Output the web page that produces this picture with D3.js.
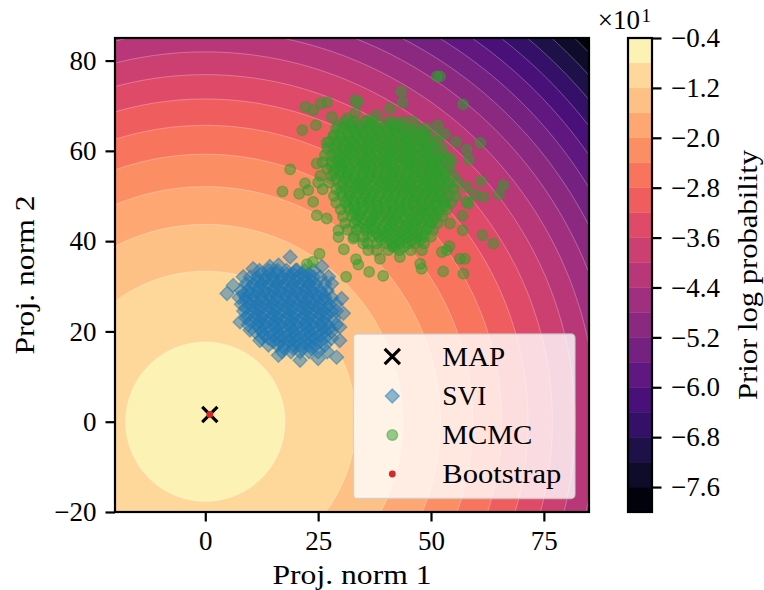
<!DOCTYPE html>
<html>
<head>
<meta charset="utf-8">
<script src="https://cdn.jsdelivr.net/npm/d3@7"></script>
<style>
  body { margin: 0; background: #fff; }
  svg, svg text { font-family: "Liberation Serif", "Times New Roman", serif !important; }
  text { fill: #000; }
</style>
</head>
<body>
<svg id="chart" width="764" height="590"></svg>
<script>
// ---- axis ticks and labels ----
const xTicks = [0, 25, 50, 75];
const xTickLabels = ["0", "25", "50", "75"];
const yTicks = [-20, 0, 20, 40, 60, 80];
const yTickLabels = ["\u221220", "0", "20", "40", "60", "80"];
const axisDomain = [-20, 85];

// ---- prior surface: isotropic Gaussian, filled contour levels ----
const priorMean = [0, 0];
const priorSigma = 10;
const levels = [-80, -76, -72, -68, -64, -60, -56, -52, -48, -44, -40, -36, -32, -28, -24, -20, -16, -12, -8, -4];
const cbTicks = [-76, -68, -60, -52, -44, -36, -28, -20, -12, -4];
const cbTickLabels = ["\u22127.6", "\u22126.8", "\u22126.0", "\u22125.2", "\u22124.4", "\u22123.6", "\u22122.8", "\u22122.0", "\u22121.2", "\u22120.4"];

// ---- point estimates ----
const mapPoint = [[1.0, 1.6]];
const bootstrapPoints = [[1.0, 1.6]];

// ---- SVI samples: outer samples, then rows of the dense core ----
const sviEdge = [[18.8,36.5],[16.2,34.7],[14.3,34.4],[25.8,34.4],[20.3,33.6],[4.8,28.4],[6.2,30.2],[8.4,32.1],
  [10.6,33.9],[7.7,22.1],[9.9,20.3],[12.1,18.0],[16.2,14.7],[21.0,13.6],[25.0,14.0],[29.1,14.3],[29.8,18.0],
  [29.8,21.0],[30.6,24.0],[30.2,27.3],[28.0,30.6],[27.3,32.1]];
const sviRows = [
  [33.5, [12, 14, 16, 18, 20, 22, 24]],
  [32.75, [12.5, 14.5, 16, 18, 19.5, 21.5, 23]],
  [32, [10, 11.5, 13.5, 15, 17, 18.5, 20.5, 22, 24, 25.5]],
  [31.25, [11.5, 13, 15, 16.5, 18.5, 20, 22, 23.5]],
  [30.5, [9, 10.5, 12.5, 14, 16, 17.5, 19.5, 21, 23, 24.5, 26.5]],
  [29.75, [10, 12, 13.5, 15.5, 17, 19, 20.5, 22.5, 24]],
  [29, [8, 9.5, 11.5, 13, 15, 16.5, 18.5, 20, 22, 23.5, 25.5, 27]],
  [28.25, [8.5, 10, 12, 14, 15.5, 17.5, 19, 21, 22.5, 24.5, 26]],
  [27.5, [7.5, 9, 11, 12.5, 14.5, 16, 18, 19.5, 21.5, 23, 25, 26.5, 28]],
  [26.75, [9, 10.5, 12.5, 14, 16, 17.5, 19.5, 21, 23, 24.5, 26.5]],
  [26, [8, 10, 11.5, 13.5, 15, 17, 18.5, 20.5, 22, 24, 25.5, 27.5, 29]],
  [25.25, [9, 11, 12.5, 14.5, 16, 18, 19.5, 21.5, 23, 25, 27]],
  [24.5, [8.5, 10.5, 12, 14, 15.5, 17.5, 19, 21, 22.5, 24.5, 26, 28, 29]],
  [23.75, [9.5, 11.5, 13, 15, 16.5, 18.5, 20, 22, 23.5, 25.5, 27]],
  [23, [9, 11, 12.5, 14.5, 16, 18, 19.5, 21.5, 23, 25, 26.5, 28.5]],
  [22.25, [10, 12, 13.5, 15.5, 17, 19, 20.5, 22.5, 24, 26]],
  [21.5, [9.5, 11.5, 13, 15, 16.5, 18.5, 20, 22, 23.5, 25.5, 27, 29]],
  [20.75, [12, 13.5, 15.5, 17, 19, 20.5, 22.5, 24, 26, 27.5]],
  [20, [11, 12.5, 14.5, 16, 18, 19.5, 21.5, 23, 25, 26.5, 28]],
  [19.25, [13, 15, 16.5, 18.5, 20, 22, 23.5, 25.5]],
  [18.5, [12.5, 14, 16, 17.5, 19.5, 21, 23, 24.5, 26.5, 28]],
  [17.75, [15, 16.5, 18.5, 20, 22, 23.5, 25.5]],
  [17, [14, 16, 17.5, 19.5, 21, 23, 24.5, 26.5]],
  [16.25, [17.5, 19.5, 21.5, 23.5]],
  [15.5, [17, 19, 21, 23, 25, 27]]
];

// ---- MCMC samples: outer samples, then rows of the dense core ----
const mcmcEdge = [[51.3,76.5],[52.0,76.5],[57.1,70.3],[43.4,73.2],[43.7,70.7],[22.2,69.7],[23.9,69.0],[25.6,70.5],
  [27.0,70.8],[33.2,71.2],[33.9,70.8],[21.5,64.6],[24.5,65.7],[28.0,67.5],[18.8,55.9],[17.1,51.0],[60.9,61.8],
  [54.2,58.4],[57.9,60.3],[55.5,62.0],[53.1,63.7],[51.5,65.7],[61.1,53.3],[66.0,52.4],[65.1,50.4],[61.6,49.8],
  [59.7,50.4],[57.9,48.7],[57.0,45.6],[57.0,42.4],[61.4,41.3],[63.8,39.5],[54.2,43.9],[56.4,36.1],[57.5,36.1],
  [53.5,38.0],[52.4,37.6],[47.6,35.0],[47.9,33.9],[38.7,36.1],[36.1,38.0],[33.4,36.0],[33.9,34.8],[30.7,38.2],
  [25.3,37.2],[22.5,34.9],[23.8,35.4],[22.1,52.8],[22.8,51.3],[23.9,48.7],[24.7,45.7],[26.9,45.0],[29.5,42.4],
  [29.5,40.9],[32.8,40.6],[35.0,39.5],[20.8,50.5],[36.3,33.2],[39.4,32.3],[31.2,32.1],[57.9,52.0],[58.3,48.3],
  [54.1,38.9],[52.7,33.3],[57.2,32.8],[43.1,36.5],[42.0,38.7],[28.4,63.2],[26.9,61.8],[24.7,57.2],[31.5,67.2],
  [33.2,68.4],[40.9,69.4],[38.0,67.9],[36.1,66.8],[29.5,65.7],[58.4,58.1]];
const mcmcRows = [
  [66.5, [31, 33, 35.5, 37, 40.5, 42, 44, 46]],
  [65.75, [32, 34, 36.5, 38.5, 41, 43]],
  [65, [29, 30.5, 32.5, 34, 36, 38, 39.5, 41.5, 43, 45, 47, 49]],
  [64.25, [31.5, 33, 35, 36.5, 38.5, 40.5, 42, 44, 46, 48]],
  [63.5, [28.5, 30, 31.5, 33.5, 35, 37, 38.5, 40.5, 42, 44, 45.5, 47.5, 49, 51]],
  [62.75, [30, 32, 33.5, 35.5, 37, 39, 41, 42.5, 44.5, 46.5, 48.5]],
  [62, [27.5, 29.5, 31, 32.5, 34.5, 36, 37.5, 39.5, 41, 43, 44.5, 46, 48, 49.5, 51.5]],
  [61.25, [29, 31, 33, 34.5, 36.5, 38, 40, 41.5, 43.5, 45, 47, 48.5, 50.5]],
  [60.5, [27, 28.5, 30.5, 32, 33.5, 35.5, 37, 39, 40.5, 42, 44, 45.5, 47, 49, 50.5, 52.5]],
  [59.75, [29, 31, 32.5, 34.5, 36, 38, 39.5, 41, 43, 44.5, 46, 48, 49.5]],
  [59, [26.5, 28, 30, 31.5, 33, 35, 36.5, 38, 40, 41.5, 43, 45, 46.5, 48, 50, 51.5, 53]],
  [58.25, [29, 30.5, 32, 34, 35.5, 37, 39, 40.5, 42, 44, 45.5, 47, 49, 50.5, 52]],
  [57.5, [26, 28, 29.5, 31, 33, 34.5, 36, 38, 39.5, 41, 43, 44.5, 46, 48, 49.5, 51, 53, 54.5]],
  [56.75, [28, 30, 31.5, 33.5, 35, 36.5, 38.5, 40, 41.5, 43.5, 45, 46.5, 48.5, 50, 51.5]],
  [56, [27, 29, 30.5, 32, 34, 35.5, 37, 39, 40.5, 42, 44, 45.5, 47, 49, 50.5, 52, 54]],
  [55.25, [28.5, 30, 31.5, 33, 35, 36.5, 38, 40, 41.5, 43, 45, 46.5, 48, 50, 51.5, 53]],
  [54.5, [25.5, 28, 30, 31.5, 33, 35, 36.5, 38, 40, 41.5, 43, 45, 46.5, 48, 50, 51.5, 53, 55]],
  [53.75, [29, 31, 33, 34.5, 36, 38, 39.5, 41, 43, 44.5, 46, 48, 49.5, 51, 53]],
  [53, [25, 27.5, 30.5, 32, 34, 35.5, 37, 39, 40.5, 42, 44, 45.5, 47, 49, 50.5, 52, 54, 56]],
  [52.25, [30, 32, 33.5, 35, 37, 38.5, 40, 42, 43.5, 45, 47, 48.5, 50, 52, 54]],
  [51.5, [26, 29, 31, 33, 34.5, 36, 38, 39.5, 41, 43, 44.5, 46, 48, 49.5, 51, 53, 55]],
  [50.75, [30, 32, 34, 35.5, 37, 39, 40.5, 42, 44, 45.5, 47, 49, 50.5, 52]],
  [50, [28.5, 30.5, 32, 33.5, 35.5, 37, 38.5, 40.5, 42, 43.5, 45.5, 47, 48.5, 50.5, 52, 54, 55.5]],
  [49.25, [31.5, 33, 35, 36.5, 38, 40, 41.5, 43, 45, 46.5, 48, 50, 51.5, 53]],
  [48.5, [29, 31, 33, 34.5, 36, 38, 39.5, 41, 43, 44.5, 46, 48, 49.5, 51, 53, 54.5]],
  [47.75, [31.5, 33, 35, 36.5, 38, 40, 41.5, 43, 44.5, 46, 48, 49.5, 51, 53]],
  [47, [30, 32, 33.5, 35, 37, 38.5, 40, 42, 43.5, 45, 47, 48.5, 50, 52, 53.5]],
  [46.25, [33, 34.5, 36.5, 38, 40, 41.5, 43, 45, 46.5, 48, 50, 51.5]],
  [45.5, [30.5, 32.5, 34, 36, 37.5, 39, 41, 42.5, 44, 46, 47.5, 49, 51, 52.5]],
  [44.75, [33.5, 35, 37, 38.5, 40.5, 42, 44, 45.5, 47, 49, 50.5]],
  [44, [31, 33, 35, 36.5, 38, 40, 41.5, 43, 45, 46.5, 48, 50, 51.5]],
  [43.25, [34, 36, 37.5, 39.5, 41, 43, 44.5, 46, 48, 49.5]],
  [42.5, [31.5, 33.5, 35.5, 37, 39, 40.5, 42, 44, 45.5, 47, 49, 50.5]],
  [41.75, [36, 38, 39.5, 41, 43, 44.5, 46, 48]],
  [41, [33, 35, 37, 38.5, 40, 42, 43.5, 45, 47, 48.5, 50]],
  [40.25, [39, 41, 42.5, 44, 46, 47.5]],
  [39.5, [36, 38, 40, 41.5, 43, 45, 46.5, 48.5]],
  [38.75, [41.5, 44]],
  [38, [38, 40.5, 43, 45.5, 48]]
];

const rowsToPoints = rows => rows.flatMap(([yv, xs]) => xs.map(xv => [xv, yv]));
const sviPoints = sviEdge.concat(rowsToPoints(sviRows));
const mcmcPoints = mcmcEdge.concat(rowsToPoints(mcmcRows));

// ---- layout ----
const W = 764, H = 590;
const plot = { left: 115, top: 38, size: 474 };
const cbBox = { left: 628, width: 24, top: 38, bottom: 512 };
const serif = '"Liberation Serif", "Times New Roman", serif';
const fontPx = 27;

const svg = d3.select("#chart");
svg.append("rect").attr("width", W).attr("height", H).attr("fill", "#fff");

const x = d3.scaleLinear().domain(axisDomain).range([plot.left, plot.left + plot.size]);
const y = d3.scaleLinear().domain(axisDomain).range([plot.top + plot.size, plot.top]);
const cb = d3.scaleLinear().domain([levels[0], levels[levels.length - 1]]).range([cbBox.bottom, cbBox.top]);
const bandColor = lo => d3.interpolateMagma((lo + 2 - levels[0]) / (levels[levels.length - 1] - levels[0]));

svg.append("clipPath").attr("id", "plotClip")
  .append("rect").attr("x", plot.left).attr("y", plot.top).attr("width", plot.size).attr("height", plot.size);

// ---- prior log density on a grid, slightly larger than the axes ----
const step = 0.5, g0 = -26, nGrid = 234;
const logNorm = -Math.log(2 * Math.PI * priorSigma * priorSigma);
const values = new Array(nGrid * nGrid);
for (let j = 0; j < nGrid; j++) {
  const gy = g0 + (j + 0.5) * step;
  for (let i = 0; i < nGrid; i++) {
    const gx = g0 + (i + 0.5) * step;
    const r2 = (gx - priorMean[0]) ** 2 + (gy - priorMean[1]) ** 2;
    values[j * nGrid + i] = logNorm - r2 / (2 * priorSigma * priorSigma);
  }
}
const contours = d3.contours().size([nGrid, nGrid]).thresholds(levels.slice(0, -1))(values);
const gridPath = d3.geoPath(d3.geoTransform({
  point(px, py) { this.stream.point(x(g0 + px * step), y(g0 + py * step)); }
}));

const field = svg.append("g").attr("clip-path", "url(#plotClip)");
field.selectAll("path.band").data(contours).join("path")
  .attr("class", "band")
  .attr("d", gridPath)
  .attr("fill", d => bandColor(d.value))
  .attr("fill-rule", "evenodd");
field.selectAll("path.seam").data(contours).join("path")
  .attr("class", "seam")
  .attr("d", gridPath)
  .attr("fill", "none")
  .attr("stroke", "#fff")
  .attr("stroke-opacity", 0.4)
  .attr("stroke-width", 0.7);

// ---- samples ----
const diamond = h => `M0,${-h}L${h},0L0,${h}L${-h},0Z`;
const cross = h => `M${-h},${-h}L${h},${h}M${-h},${h}L${h},${-h}`;
const marks = svg.append("g").attr("clip-path", "url(#plotClip)");

marks.append("g").selectAll("path").data(mapPoint).join("path")
  .attr("transform", d => `translate(${x(d[0])},${y(d[1])})`)
  .attr("d", cross(7.6))
  .attr("stroke", "#000").attr("stroke-width", 3.2).attr("fill", "none");

marks.append("g").selectAll("path").data(sviPoints).join("path")
  .attr("transform", d => `translate(${x(d[0])},${y(d[1])})`)
  .attr("d", diamond(7))
  .attr("fill", "#1f77b4").attr("fill-opacity", 0.5)
  .attr("stroke", "#1f77b4").attr("stroke-opacity", 0.5).attr("stroke-width", 1.3);

marks.append("g").selectAll("circle").data(mcmcPoints).join("circle")
  .attr("cx", d => x(d[0])).attr("cy", d => y(d[1])).attr("r", 5.3)
  .attr("fill", "#2ca02c").attr("fill-opacity", 0.5)
  .attr("stroke", "#2ca02c").attr("stroke-opacity", 0.5).attr("stroke-width", 1.3);

marks.append("g").selectAll("circle").data(bootstrapPoints).join("circle")
  .attr("cx", d => x(d[0])).attr("cy", d => y(d[1])).attr("r", 3.4)
  .attr("fill", "#d62728");

// ---- axes ----
const styleAxis = a => {
  a.attr("font-family", serif).attr("font-size", fontPx);
  a.select(".domain").remove();
  a.selectAll(".tick line").attr("stroke", "#000").attr("stroke-width", 2.2);
  a.selectAll(".tick text").attr("fill", "#000").style("font-family", serif).style("font-size", fontPx + "px");
};
const xAxis = svg.append("g").attr("transform", `translate(0,${plot.top + plot.size})`)
  .call(d3.axisBottom(x).tickValues(xTicks).tickFormat((d, i) => xTickLabels[i]).tickSize(9.5).tickPadding(9));
const yAxis = svg.append("g").attr("transform", `translate(${plot.left},0)`)
  .call(d3.axisLeft(y).tickValues(yTicks).tickFormat((d, i) => yTickLabels[i]).tickSize(9.5).tickPadding(9));
styleAxis(xAxis);
styleAxis(yAxis);
svg.append("rect").attr("x", plot.left).attr("y", plot.top).attr("width", plot.size).attr("height", plot.size)
  .attr("fill", "none").attr("stroke", "#000").attr("stroke-width", 2.2);

const label = (sel) => sel.style("font-family", serif).style("font-size", fontPx + "px");
svg.append("text").attr("x", plot.left + plot.size / 2).attr("y", 584)
  .attr("text-anchor", "middle").call(label)
  .attr("textLength", 159).attr("lengthAdjust", "spacingAndGlyphs")
  .text("Proj. norm 1");
svg.append("text").attr("transform", `translate(34,${plot.top + plot.size / 2}) rotate(-90)`)
  .attr("text-anchor", "middle").call(label)
  .attr("textLength", 159).attr("lengthAdjust", "spacingAndGlyphs")
  .text("Proj. norm 2");

// ---- legend ----
const legend = svg.append("g");
legend.append("rect").attr("x", 353.5).attr("y", 334).attr("width", 221.5).attr("height", 164.5).attr("rx", 4)
  .attr("fill", "#fff").attr("fill-opacity", 0.8)
  .attr("stroke", "#cccccc").attr("stroke-opacity", 0.8).attr("stroke-width", 1.3);
const legendItems = [
  { label: "MAP", len: 63, draw: g => g.append("path").attr("d", cross(7.6))
      .attr("stroke", "#000").attr("stroke-width", 3.2).attr("fill", "none") },
  { label: "SVI", len: 44, draw: g => g.append("path").attr("d", diamond(7))
      .attr("fill", "#1f77b4").attr("fill-opacity", 0.5)
      .attr("stroke", "#1f77b4").attr("stroke-opacity", 0.5).attr("stroke-width", 1.3) },
  { label: "MCMC", len: 90, draw: g => g.append("circle").attr("r", 5.3)
      .attr("fill", "#2ca02c").attr("fill-opacity", 0.5)
      .attr("stroke", "#2ca02c").attr("stroke-opacity", 0.5).attr("stroke-width", 1.3) },
  { label: "Bootstrap", len: 119, draw: g => g.append("circle").attr("r", 3.4).attr("fill", "#d62728") }
];
const legendRows = [356.5, 396, 435, 474];
legendItems.forEach((item, i) => {
  const g = legend.append("g").attr("transform", `translate(392.3,${legendRows[i]})`);
  item.draw(g);
  legend.append("text").attr("x", 442.3).attr("y", legendRows[i] + 9).call(label)
    .attr("textLength", item.len).attr("lengthAdjust", "spacingAndGlyphs")
    .text(item.label);
});

// ---- colorbar ----
const cbG = svg.append("g");
cbG.selectAll("rect.band").data(levels.slice(0, -1)).join("rect")
  .attr("class", "band")
  .attr("x", cbBox.left).attr("width", cbBox.width)
  .attr("y", d => cb(d + 4)).attr("height", d => cb(d) - cb(d + 4))
  .attr("fill", d => bandColor(d))
  .attr("stroke", d => bandColor(d)).attr("stroke-width", 0.4);
cbG.append("rect").attr("x", cbBox.left).attr("y", cbBox.top).attr("width", cbBox.width)
  .attr("height", cbBox.bottom - cbBox.top)
  .attr("fill", "none").attr("stroke", "#000").attr("stroke-width", 2.2);
const cbAxis = svg.append("g").attr("transform", `translate(${cbBox.left + cbBox.width},0)`)
  .call(d3.axisRight(cb).tickValues(cbTicks).tickFormat((d, i) => cbTickLabels[i]).tickSize(9.5).tickPadding(9.5));
styleAxis(cbAxis);

svg.append("text").attr("x", 640).attr("y", 29.3).attr("text-anchor", "end").call(label)
  .text("\u00d710");
svg.append("text").attr("x", 641.5).attr("y", 21.5).style("font-family", serif).style("font-size", "19px").text("1");

svg.append("text").attr("transform", `translate(757,${(cbBox.top + cbBox.bottom) / 2}) rotate(-90)`)
  .attr("text-anchor", "middle").call(label)
  .attr("textLength", 250).attr("lengthAdjust", "spacingAndGlyphs")
  .text("Prior log probability");
</script>
</body>
</html>
